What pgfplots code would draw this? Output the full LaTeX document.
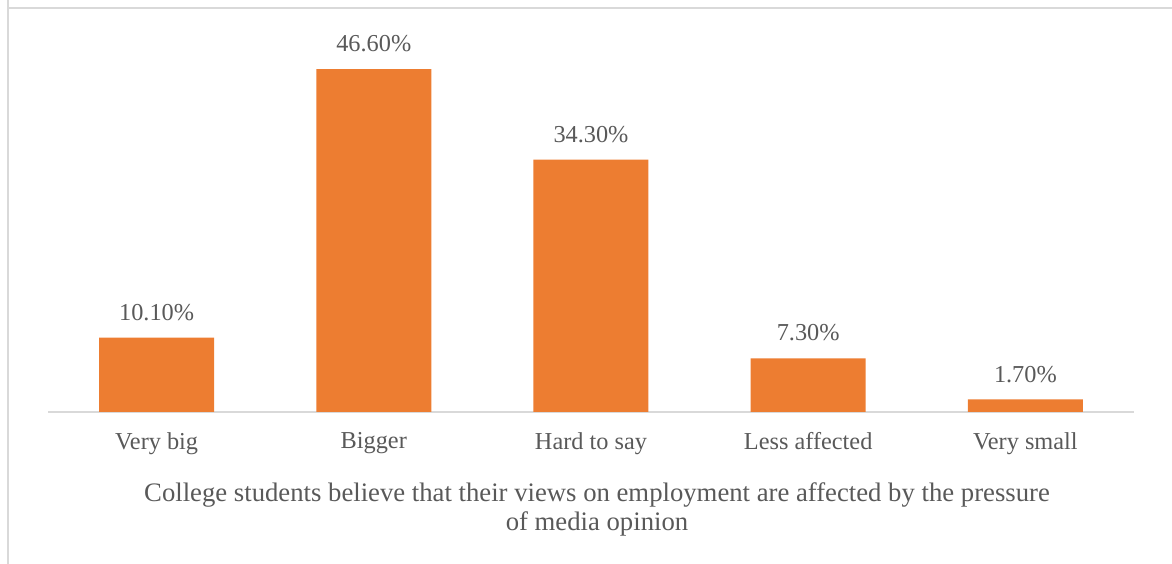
\documentclass[border=0pt]{standalone}
\usepackage{pgfplots}
\pgfplotsset{compat=1.18}
\usepackage{fontspec}
\setmainfont{Liberation Serif}
\definecolor{barorange}{HTML}{ED7D31}
\definecolor{txtgray}{HTML}{595959}
\definecolor{linegray}{HTML}{D9D9D9}
\begin{document}
\begin{tikzpicture}[x=1pt,y=1pt]
\useasboundingbox (0,0) rectangle (1172,564);
\draw[linegray, line width=2pt] (8,564) -- (8,556) -- (1172,556);
\draw[linegray, line width=2pt] (8,556) -- (8,0);
\begin{axis}[
    at={(48pt,152pt)}, anchor=south west,
    scale only axis,
    width=1086pt, height=368pt,
    xmin=-0.5, xmax=4.5,
    ymin=0, ymax=50,
    axis y line=none,
    axis x line*=bottom,
    axis line style={linegray, line width=1.5pt, -},
    xtick=data,
    xticklabels={Very big,Bigger,Hard to say,Less affected,Very small},
    major tick length=0pt,
    xticklabel style={font=\fontsize{24.3}{29}\selectfont, text=txtgray, yshift=-17pt},
    ybar, bar width=115pt,
    /pgf/number format/assume math mode=true,
    nodes near coords={\pgfmathprintnumber[fixed,fixed zerofill,precision=2]{\pgfplotspointmeta}\%},
    nodes near coords style={font=\fontsize{24.3}{29}\selectfont, text=txtgray, yshift=13.5pt},
]
\addplot[fill=barorange, draw=none] coordinates {(0,10.1) (1,46.6) (2,34.3) (3,7.3) (4,1.7)};
\end{axis}
\node[anchor=base, inner sep=0pt, text=txtgray, font=\fontsize{26.7}{29}\selectfont] at (597,62)
  {College students believe that their views on employment are affected by the pressure};
\node[anchor=base, inner sep=0pt, text=txtgray, font=\fontsize{26.7}{29}\selectfont] at (597,33)
  {of media opinion};
\end{tikzpicture}
\end{document}
